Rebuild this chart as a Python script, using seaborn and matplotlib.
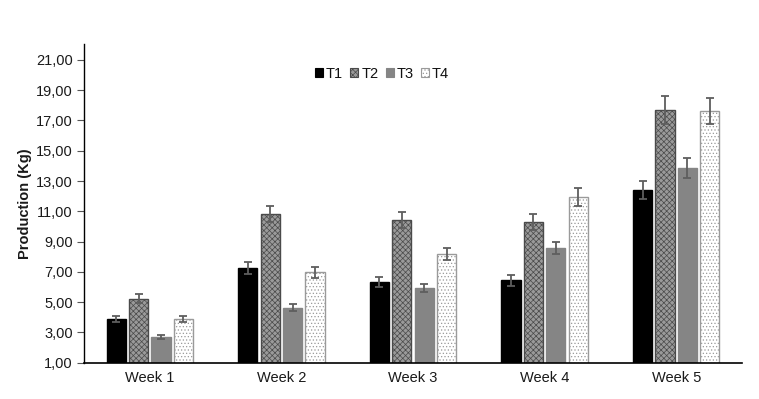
import matplotlib
matplotlib.use("Agg")
import matplotlib.pyplot as plt
import matplotlib.ticker as mticker
from matplotlib.patches import Patch
import seaborn as sns
import pandas as pd
import numpy as np

weeks = ["Week 1", "Week 2", "Week 3", "Week 4", "Week 5"]
treatments = ["T1", "T2", "T3", "T4"]
t1 = [3.90, 7.28, 6.35, 6.45, 12.40]
t2 = [5.23, 10.80, 10.43, 10.28, 17.70]
t3 = [2.70, 4.64, 5.92, 8.58, 13.89]
t4 = [3.91, 6.97, 8.16, 11.95, 17.63]
e1 = [0.20, 0.40, 0.33, 0.37, 0.62]
e2 = [0.29, 0.53, 0.55, 0.53, 0.92]
e3 = [0.11, 0.22, 0.26, 0.42, 0.66]
e4 = [0.20, 0.36, 0.40, 0.58, 0.84]
y_ticks = [1, 3, 5, 7, 9, 11, 13, 15, 17, 19, 21]

values = [t1, t2, t3, t4]
errors = [e1, e2, e3, e4]
rows = []
for t, vals, errs in zip(treatments, values, errors):
    for w, v, e in zip(weeks, vals, errs):
        rows.append({"Week": w, "Treatment": t, "Production": v, "err": e})
df = pd.DataFrame(rows)

sns.set_theme(style="white")
plt.rcParams["font.family"] = ["Liberation Sans", "DejaVu Sans"]
plt.rcParams["hatch.linewidth"] = 0.5

fig = plt.figure(figsize=(7.59, 3.99), dpi=100)
ax = fig.add_axes([0.1107, 0.091, 0.8669, 0.7987])

face = {"T1": "#000000", "T2": "#9a9a9a", "T3": "#858585", "T4": "#ffffff"}
sns.barplot(data=df, x="Week", y="Production", hue="Treatment",
            order=weeks, hue_order=treatments, palette=face,
            width=0.68, gap=0.14, errorbar=None, ax=ax, linewidth=0, legend=False)

styles = {
    "T1": dict(edgecolor="#000000", hatch=None),
    "T2": dict(edgecolor="#4a4a4a", hatch="xxxxxx"),
    "T3": dict(edgecolor="#858585", hatch=None),
    "T4": dict(edgecolor="#9a9a9a", hatch="....."),
}
for cont, t in zip(ax.containers, treatments):
    st = styles[t]
    for bar in cont:
        bar.set_edgecolor(st["edgecolor"])
        bar.set_linewidth(1.0)
        if st["hatch"]:
            bar.set_hatch(st["hatch"])
    sub = df[df["Treatment"] == t].set_index("Week").loc[weeks]
    xs = [b.get_x() + b.get_width() / 2 for b in cont]
    ax.errorbar(xs, sub["Production"].values, yerr=sub["err"].values,
                fmt="none", ecolor="#5e5e5e", elinewidth=1.3, capsize=3,
                capthick=1.3, zorder=5)

ax.set_ylim(1, 22.05)
ax.set_xlim(-0.5, 4.5)
ax.set_yticks(y_ticks)
ax.yaxis.set_major_formatter(mticker.FuncFormatter(lambda v, p: f"{v:.2f}".replace(".", ",")))
ax.tick_params(axis="y", direction="out", length=5, width=0.8, color="#555555",
               labelsize=10.5, labelcolor="#1a1a1a", left=True, pad=3)
ax.tick_params(axis="x", length=0, labelsize=10.5, labelcolor="#1a1a1a", pad=6)
ax.set_xlabel("")
ax.set_ylabel("Production (Kg)", fontsize=10.5, fontweight="bold", color="#1a1a1a", labelpad=3)

for s in ["top", "right"]:
    ax.spines[s].set_visible(False)
ax.spines["left"].set_color("#000000")
ax.spines["left"].set_linewidth(1.0)
ax.spines["bottom"].set_color("#000000")
ax.spines["bottom"].set_linewidth(1.2)

handles = [Patch(facecolor=face[t], edgecolor=styles[t]["edgecolor"],
                 hatch=styles[t]["hatch"], linewidth=0.8, label=t) for t in treatments]
leg = ax.legend(handles=handles, loc="center", bbox_to_anchor=(0.453, 0.906), ncol=4,
                frameon=False, fontsize=10.5, handlelength=0.55, handleheight=0.55,
                handletextpad=0.2, columnspacing=0.5, borderpad=0)
for txt in leg.get_texts():
    txt.set_color("#111111")

fig.savefig("out.png", dpi=100)
